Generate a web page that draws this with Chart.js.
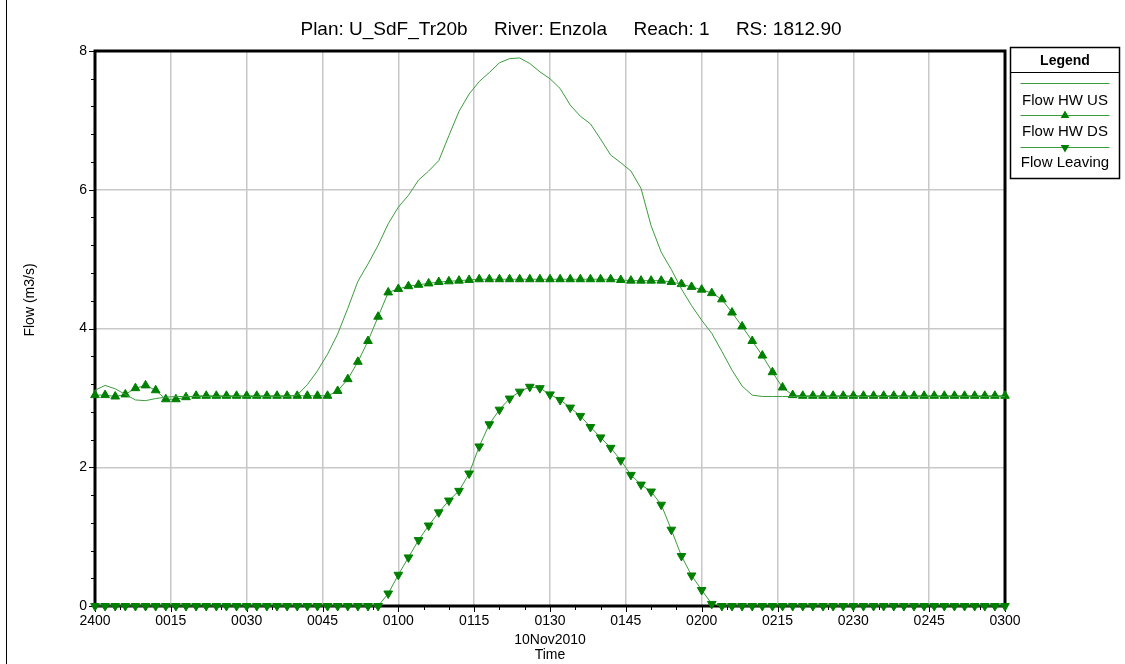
<!DOCTYPE html>
<html>
<head>
<meta charset="utf-8">
<script src="https://cdn.jsdelivr.net/npm/chart.js@4.4.0/dist/chart.umd.min.js"></script>
<style>
  html, body { margin: 0; padding: 0; background: #fff; }
  #wrap { position: relative; width: 1125px; height: 664px; }
</style>
</head>
<body>
<div id="wrap"><canvas id="chart" width="1125" height="664"></canvas></div>
<script>
// ====== Data ======
const titleParts = ["Plan: U_SdF_Tr20b", "River: Enzola", "Reach: 1", "RS: 1812.90"];
const yTitle = "Flow (m3/s)";
const xSubLabel = "10Nov2010";
const xTitle = "Time";

// minutes after 2400, one sample every 2 minutes
const times = [
  0, 2, 4, 6, 8, 10, 12, 14, 16, 18, 20, 22, 24, 26, 28, 30, 32, 34, 36, 38,
  40, 42, 44, 46, 48, 50, 52, 54, 56, 58, 60, 62, 64, 66, 68, 70, 72, 74, 76, 78,
  80, 82, 84, 86, 88, 90, 92, 94, 96, 98, 100, 102, 104, 106, 108, 110, 112, 114, 116, 118,
  120, 122, 124, 126, 128, 130, 132, 134, 136, 138, 140, 142, 144, 146, 148, 150, 152, 154, 156, 158,
  160, 162, 164, 166, 168, 170, 172, 174, 176, 178, 180
];

const flowHWUS = [
  3.11, 3.18, 3.13, 3.05, 2.97, 2.96, 2.99, 3.01, 3.02, 3.02, 3.02, 3.02, 3.02, 3.02, 3.02, 3.02, 3.02, 3.02, 3.02, 3.02,
  3.04, 3.19, 3.39, 3.63, 3.92, 4.29, 4.68, 4.93, 5.20, 5.51, 5.75, 5.92, 6.14, 6.27, 6.42, 6.78, 7.13, 7.38, 7.56, 7.69,
  7.83, 7.89, 7.90, 7.82, 7.70, 7.60, 7.46, 7.22, 7.06, 6.95, 6.73, 6.50, 6.39, 6.27, 6.02, 5.48, 5.10, 4.85, 4.57, 4.33,
  4.12, 3.93, 3.67, 3.40, 3.17, 3.04, 3.02, 3.02, 3.02, 3.02, 3.02, 3.02, 3.02, 3.02, 3.02, 3.02, 3.02, 3.02, 3.02, 3.02,
  3.02, 3.02, 3.02, 3.02, 3.02, 3.02, 3.02, 3.02, 3.02, 3.02, 3.02
];

const flowHWDS = [
  3.04, 3.04, 3.02, 3.05, 3.14, 3.18, 3.11, 2.98, 2.98, 3.01, 3.03, 3.03, 3.03, 3.03, 3.03, 3.03, 3.03, 3.03, 3.03, 3.03,
  3.03, 3.03, 3.03, 3.03, 3.10, 3.27, 3.52, 3.82, 4.17, 4.52, 4.57, 4.61, 4.63, 4.65, 4.67, 4.68, 4.69, 4.70, 4.71, 4.71,
  4.71, 4.71, 4.71, 4.71, 4.71, 4.71, 4.71, 4.71, 4.71, 4.71, 4.71, 4.71, 4.70, 4.69, 4.69, 4.69, 4.69, 4.67, 4.64, 4.60,
  4.56, 4.51, 4.42, 4.23, 4.03, 3.82, 3.61, 3.37, 3.15, 3.04, 3.03, 3.03, 3.03, 3.03, 3.03, 3.03, 3.03, 3.03, 3.03, 3.03,
  3.03, 3.03, 3.03, 3.03, 3.03, 3.03, 3.03, 3.03, 3.03, 3.03, 3.03
];

const flowLeaving = [
  0, 0, 0, 0, 0, 0, 0, 0, 0, 0, 0, 0, 0, 0, 0, 0, 0, 0, 0, 0,
  0, 0, 0, 0, 0, 0, 0, 0, 0, 0.18, 0.45, 0.70, 0.95, 1.16, 1.35, 1.52, 1.66, 1.91, 2.30, 2.62,
  2.83, 2.99, 3.09, 3.16, 3.14, 3.05, 2.97, 2.86, 2.74, 2.58, 2.43, 2.28, 2.10, 1.89, 1.75, 1.65, 1.46, 1.10, 0.72, 0.44,
  0.23, 0.03, 0, 0, 0, 0, 0, 0, 0, 0, 0, 0, 0, 0, 0, 0, 0, 0, 0, 0,
  0, 0, 0, 0, 0, 0, 0, 0, 0, 0, 0
];

const xTickValues = [0, 15, 30, 45, 60, 75, 90, 105, 120, 135, 150, 165, 180];
const xTickLabels = ["2400", "0015", "0030", "0045", "0100", "0115", "0130", "0145", "0200", "0215", "0230", "0245", "0300"];
const yTickValues = [0, 2, 4, 6, 8];

const seriesNames = ["Flow HW US", "Flow HW DS", "Flow Leaving"];

// ====== Styles ======
const FONT = "'Liberation Sans', Arial, sans-serif";
const LINE = "#3c9c3c";
const MARK = "#008000";

const toPts = (vals) => vals.map((v, i) => ({ x: times[i], y: v }));

function tri(ctx, x, y, r, down) {
  const s = down ? -1 : 1;
  ctx.beginPath();
  ctx.moveTo(x, y - s * r);
  ctx.lineTo(x + r * 0.866, y + s * r * 0.5);
  ctx.lineTo(x - r * 0.866, y + s * r * 0.5);
  ctx.closePath();
  ctx.fill();
}

// ====== Plugins ======
const paper = {
  id: "paper",
  beforeDraw(chart) {
    const ctx = chart.ctx;
    ctx.save();
    ctx.fillStyle = "#fff";
    ctx.fillRect(0, 0, chart.width, chart.height);
    ctx.restore();
  },
  beforeDatasetsDraw(chart) {
    const { ctx, chartArea: a, scales } = chart;
    ctx.save();
    ctx.strokeStyle = "#000";
    // minor + major ticks, x
    ctx.lineWidth = 1;
    for (let m = 0; m <= 180; m += 5) {
      const px = Math.round(scales.x.getPixelForValue(m)) + 0.5;
      const len = m % 15 === 0 ? 6 : 4;
      ctx.beginPath();
      ctx.moveTo(px, a.bottom);
      ctx.lineTo(px, a.bottom + len);
      ctx.stroke();
    }
    // minor + major ticks, y
    for (let k = 0; k <= 20; k++) {
      const v = k * 0.4;
      const py = Math.round(scales.y.getPixelForValue(v)) + 0.5;
      const len = k % 5 === 0 ? 6 : 4;
      ctx.beginPath();
      ctx.moveTo(a.left, py);
      ctx.lineTo(a.left - len, py);
      ctx.stroke();
    }
    // plot frame
    ctx.lineWidth = 3;
    ctx.strokeRect(a.left, a.top, a.right - a.left, a.bottom - a.top);
    ctx.restore();
  },
  afterDraw(chart) {
    const { ctx, chartArea: a } = chart;
    ctx.save();
    ctx.fillStyle = "#000";
    ctx.textAlign = "center";
    ctx.textBaseline = "middle";

    ctx.font = "19px " + FONT;
    ctx.fillText(titleParts.join("     "), 571, 30);

    ctx.font = "14px " + FONT;
    const cx = (a.left + a.right) / 2;
    ctx.fillText(xSubLabel, cx, 640);
    ctx.fillText(xTitle, cx, 655);

    ctx.save();
    ctx.translate(30, 300);
    ctx.rotate(-Math.PI / 2);
    ctx.fillText(yTitle, 0, 0);
    ctx.restore();

    // outer frame edge on the left
    ctx.strokeStyle = "#000";
    ctx.lineWidth = 1;
    ctx.beginPath();
    ctx.moveTo(6.5, 0);
    ctx.lineTo(6.5, chart.height);
    ctx.stroke();

    // legend box
    const lx = 1010.5, ly = 47.5, lw = 109, lh = 131;
    ctx.lineWidth = 1.5;
    ctx.strokeRect(lx, ly, lw, lh);
    ctx.lineWidth = 1;
    ctx.beginPath();
    ctx.moveTo(lx, 72.5);
    ctx.lineTo(lx + lw, 72.5);
    ctx.stroke();
    ctx.font = "bold 14px " + FONT;
    ctx.fillText("Legend", lx + lw / 2, 61);

    const rows = [
      { lineY: 83.5, textY: 101, marker: null },
      { lineY: 115.5, textY: 132, marker: "up" },
      { lineY: 147.5, textY: 163, marker: "down" },
    ];
    ctx.font = "15px " + FONT;
    rows.forEach((r, i) => {
      ctx.strokeStyle = LINE;
      ctx.beginPath();
      ctx.moveTo(lx + 10, r.lineY);
      ctx.lineTo(lx + lw - 10, r.lineY);
      ctx.stroke();
      if (r.marker) {
        ctx.fillStyle = MARK;
        tri(ctx, lx + lw / 2, r.lineY, 5, r.marker === "down");
      }
      ctx.fillStyle = "#000";
      ctx.fillText(seriesNames[i], lx + lw / 2, r.textY);
    });
    ctx.restore();
  },
};

// ====== Chart ======
new Chart(document.getElementById("chart"), {
  type: "line",
  data: {
    datasets: [
      {
        label: seriesNames[0],
        data: toPts(flowHWUS),
        borderColor: LINE,
        borderWidth: 1,
        pointRadius: 0,
        tension: 0,
        clip: false,
      },
      {
        label: seriesNames[1],
        data: toPts(flowHWDS),
        borderColor: LINE,
        borderWidth: 1,
        pointStyle: "triangle",
        pointRadius: 5,
        pointBorderWidth: 1,
        pointBackgroundColor: MARK,
        pointBorderColor: MARK,
        tension: 0,
        clip: false,
      },
      {
        label: seriesNames[2],
        data: toPts(flowLeaving),
        borderColor: LINE,
        borderWidth: 1,
        pointStyle: "triangle",
        pointRotation: 180,
        pointRadius: 5,
        pointBorderWidth: 1,
        pointBackgroundColor: MARK,
        pointBorderColor: MARK,
        tension: 0,
        clip: false,
      },
    ],
  },
  options: {
    responsive: false,
    animation: false,
    devicePixelRatio: 1,
    layout: { padding: { top: 51, right: 120, left: 0, bottom: 0 } },
    plugins: { legend: { display: false }, tooltip: { enabled: false }, title: { display: false } },
    scales: {
      x: {
        type: "linear",
        min: 0,
        max: 180,
        afterBuildTicks: (s) => { s.ticks = xTickValues.map((v) => ({ value: v })); },
        afterFit: (s) => { s.height = 58; },
        ticks: {
          autoSkip: false,
          maxRotation: 0,
          padding: 7,
          color: "#000",
          font: { family: FONT, size: 14 },
          callback: (v, i) => xTickLabels[i],
        },
        grid: { color: "#c8c8c8", lineWidth: 1.5, drawTicks: false },
        border: { display: false },
      },
      y: {
        min: 0,
        max: 8,
        afterBuildTicks: (s) => { s.ticks = yTickValues.map((v) => ({ value: v })); },
        afterFit: (s) => { s.width = 95; },
        ticks: {
          padding: 8,
          color: "#000",
          font: { family: FONT, size: 14 },
          callback: (v) => String(v),
        },
        grid: { color: "#c8c8c8", lineWidth: 1.5, drawTicks: false },
        border: { display: false },
      },
    },
  },
  plugins: [paper],
});
</script>
</body>
</html>
